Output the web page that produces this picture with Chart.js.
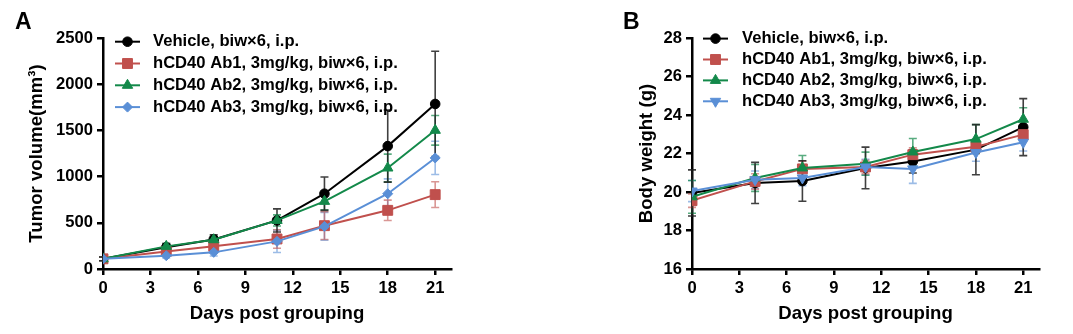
<!DOCTYPE html>
<html>
<head>
<meta charset="utf-8">
<script src="https://cdn.jsdelivr.net/npm/chart.js@4.4.0/dist/chart.umd.min.js"></script>
<style>
  body { margin: 0; background: #fff; }
  #wrap { position: relative; width: 1073px; height: 334px; overflow: hidden; }
  canvas { position: absolute; top: 0; }
  #chartA { left: 0; }
  #chartB { left: 560px; }
  .letter { position: absolute; font: bold 23px "Liberation Sans", Arial, sans-serif; line-height: 23px; color: #000; }
</style>
</head>
<body>
<div id="wrap">
  <canvas id="chartA" width="560" height="334"></canvas>
  <canvas id="chartB" width="513" height="334"></canvas>
  <div class="letter" style="left:15px;top:10px">A</div>
  <div class="letter" style="left:623px;top:10px">B</div>
</div>
<script>
// days post grouping
const days = [0, 4, 7, 11, 14, 18, 21];
const groupNames = [
    "Vehicle, biw×6, i.p.",
    "hCD40 Ab1, 3mg/kg, biw×6, i.p.",
    "hCD40 Ab2, 3mg/kg, biw×6, i.p.",
    "hCD40 Ab3, 3mg/kg, biw×6, i.p.",
];

// A: tumor volume (mm3), mean and error
const volVehicle = [110, 235, 320, 526, 815, 1330, 1786];
const volVehicleErr = [20, 40, 50, 125, 180, 390, 570];
const volAb1 = [110, 190, 245, 325, 469, 635, 805];
const volAb1Err = [20, 30, 40, 100, 150, 110, 140];
const volAb2 = [110, 245, 317, 526, 732, 1093, 1501];
const volAb2Err = [20, 30, 40, 60, 90, 150, 160];
const volAb3 = [110, 144, 180, 299, 461, 815, 1202];
const volAb3Err = [20, 25, 40, 120, 150, 160, 180];

// B: body weight (g), mean and error
const bwVehicle = [19.95, 20.47, 20.57, 21.25, 21.59, 22.2, 23.37];
const bwVehicleErr = [1.2, 1.07, 1.05, 1.08, 0.6, 1.3, 1.48];
const bwAb1 = [19.55, 20.55, 21.2, 21.3, 21.94, 22.35, 22.98];
const bwAb1Err = [0.35, 0.4, 0.4, 0.35, 0.35, 0.35, 0.35];
const bwAb2 = [19.75, 20.73, 21.25, 21.47, 22.08, 22.75, 23.78];
const bwAb2Err = [0.85, 0.7, 0.65, 0.6, 0.7, 0.75, 0.6];
const bwAb3 = [20.05, 20.64, 20.73, 21.3, 21.2, 22.05, 22.58];
const bwAb3Err = [0.55, 0.45, 0.4, 0.4, 0.75, 0.45, 0.45];

const xTickStep = 3;
const volTicks = { min: 0, max: 2500, step: 500 };
const bwTicks = { min: 16, max: 28, step: 2 };

const FONT = '"Liberation Sans", Arial, sans-serif';
const tickFont = { family: FONT, size: 16.6, weight: "bold" };
const titleFont = { family: FONT, size: 18.6, weight: "bold" };

const colors = ["#000000", "#c0504d", "#13894a", "#5a8fd6"];
const errColors = ["rgba(30,30,30,0.85)", "rgba(192,80,77,0.6)", "rgba(19,137,74,0.7)", "rgba(90,143,214,0.6)"];

function toPoints(values) {
    return values.map((v, i) => ({ x: days[i], y: v }));
}

function makeDataset(i, values, errors, style, radius, rotation) {
    return {
        label: groupNames[i],
        data: toPoints(values),
        errors: errors,
        errorColor: errColors[i],
        borderColor: colors[i],
        backgroundColor: colors[i],
        pointBackgroundColor: colors[i],
        pointBorderColor: colors[i],
        pointStyle: style,
        pointRadius: radius,
        pointRotation: rotation || 0,
        pointBorderWidth: 1,
        borderWidth: 2,
        tension: 0,
        order: 4 - i,
    };
}

// error bars drawn through the y scale
const errorBars = {
    id: "errorBars",
    beforeDatasetsDraw(chart) {
        const ctx = chart.ctx;
        const yScale = chart.scales.y;
        for (let i = chart.data.datasets.length - 1; i >= 0; i--) {
            const ds = chart.data.datasets[i];
            const meta = chart.getDatasetMeta(i);
            ctx.save();
            ctx.strokeStyle = ds.errorColor;
            ctx.lineWidth = 1.6;
            meta.data.forEach((pt, j) => {
                const v = ds.data[j].y, e = ds.errors[j];
                const top = yScale.getPixelForValue(v + e);
                const bot = yScale.getPixelForValue(v - e);
                ctx.beginPath();
                ctx.moveTo(pt.x, top); ctx.lineTo(pt.x, bot);
                ctx.moveTo(pt.x - 4, top); ctx.lineTo(pt.x + 4, top);
                ctx.moveTo(pt.x - 4, bot); ctx.lineTo(pt.x + 4, bot);
                ctx.stroke();
            });
            ctx.restore();
        }
    },
};

// legend inside the plot area, top left
const insideLegend = {
    id: "insideLegend",
    afterDraw(chart, args, opts) {
        const { ctx, chartArea } = chart;
        ctx.save();
        ctx.font = "bold 16.6px " + FONT;
        ctx.textBaseline = "middle";
        chart.data.datasets.forEach((ds, i) => {
            const y = chartArea.top + opts.top + i * opts.rowGap;
            const x0 = chartArea.left + opts.lineStart;
            const x1 = x0 + opts.lineLength;
            ctx.strokeStyle = ds.borderColor;
            ctx.lineWidth = 2;
            ctx.beginPath();
            ctx.moveTo(x0, y);
            ctx.lineTo(x1, y);
            ctx.stroke();
            ctx.fillStyle = ds.pointBackgroundColor;
            ctx.lineWidth = 1;
            Chart.helpers.drawPoint(ctx, {
                pointStyle: ds.pointStyle,
                rotation: ds.pointRotation,
                radius: ds.pointRadius,
                borderWidth: 1,
            }, (x0 + x1) / 2, y);
            ctx.fillStyle = "#000";
            ctx.fillText(ds.label, chartArea.left + opts.textStart, y);
        });
        ctx.restore();
    },
};

function makeOptions(cfg) {
    return {
        responsive: false,
        animation: false,
        layout: { padding: { left: cfg.padLeft, right: cfg.padRight, top: 38, bottom: 0 } },
        plugins: {
            legend: { display: false },
            tooltip: { enabled: false },
            insideLegend: cfg.legend,
        },
        scales: {
            x: {
                type: "linear",
                min: 0,
                max: 22,
                border: { color: "#000", width: 2.5 },
                grid: { display: true, drawOnChartArea: false, color: "#000", lineWidth: 2.5, tickLength: 6 },
                ticks: { stepSize: xTickStep, includeBounds: false, color: "#000", font: tickFont, padding: 3, maxRotation: 0 },
                title: { display: true, text: "Days post grouping", color: "#000", font: titleFont, padding: { top: 4, bottom: 9 } },
                afterFit(axis) { axis.height = 65; },
            },
            y: {
                min: cfg.ticks.min,
                max: cfg.ticks.max,
                border: { color: "#000", width: 2.5 },
                grid: { display: true, drawOnChartArea: false, color: "#000", lineWidth: 2.5, tickLength: 6 },
                ticks: { stepSize: cfg.ticks.step, color: "#000", font: tickFont, padding: 4, callback: (v) => String(v) },
                title: { display: true, text: cfg.yTitle, color: "#000", font: titleFont, padding: { top: 4, bottom: 4 } },
                afterFit(axis) { axis.width = cfg.yWidth; },
            },
        },
    };
}

new Chart(document.getElementById("chartA").getContext("2d"), {
    type: "line",
    data: {
        datasets: [
            makeDataset(0, volVehicle, volVehicleErr, "circle", 4.8),
            makeDataset(1, volAb1, volAb1Err, "rect", 7),
            makeDataset(2, volAb2, volAb2Err, "triangle", 6),
            makeDataset(3, volAb3, volAb3Err, "rectRot", 5),
        ],
    },
    options: makeOptions({
        padLeft: 21.5, padRight: 109, yWidth: 81.5,
        ticks: volTicks, yTitle: "Tumor volume(mm³)",
        legend: { top: 3.7, rowGap: 21.8, lineStart: 12, lineLength: 25, textStart: 50 },
    }),
    plugins: [errorBars, insideLegend],
});

new Chart(document.getElementById("chartB").getContext("2d"), {
    type: "line",
    data: {
        datasets: [
            makeDataset(0, bwVehicle, bwVehicleErr, "circle", 4.8),
            makeDataset(1, bwAb1, bwAb1Err, "rect", 7),
            makeDataset(2, bwAb2, bwAb2Err, "triangle", 6),
            makeDataset(3, bwAb3, bwAb3Err, "triangle", 6, 180),
        ],
    },
    options: makeOptions({
        padLeft: 71.5, padRight: 34, yWidth: 60.5,
        ticks: bwTicks, yTitle: "Body weight (g)",
        legend: { top: 0.6, rowGap: 20.9, lineStart: 11, lineLength: 25, textStart: 50 },
    }),
    plugins: [errorBars, insideLegend],
});
</script>
</body>
</html>
